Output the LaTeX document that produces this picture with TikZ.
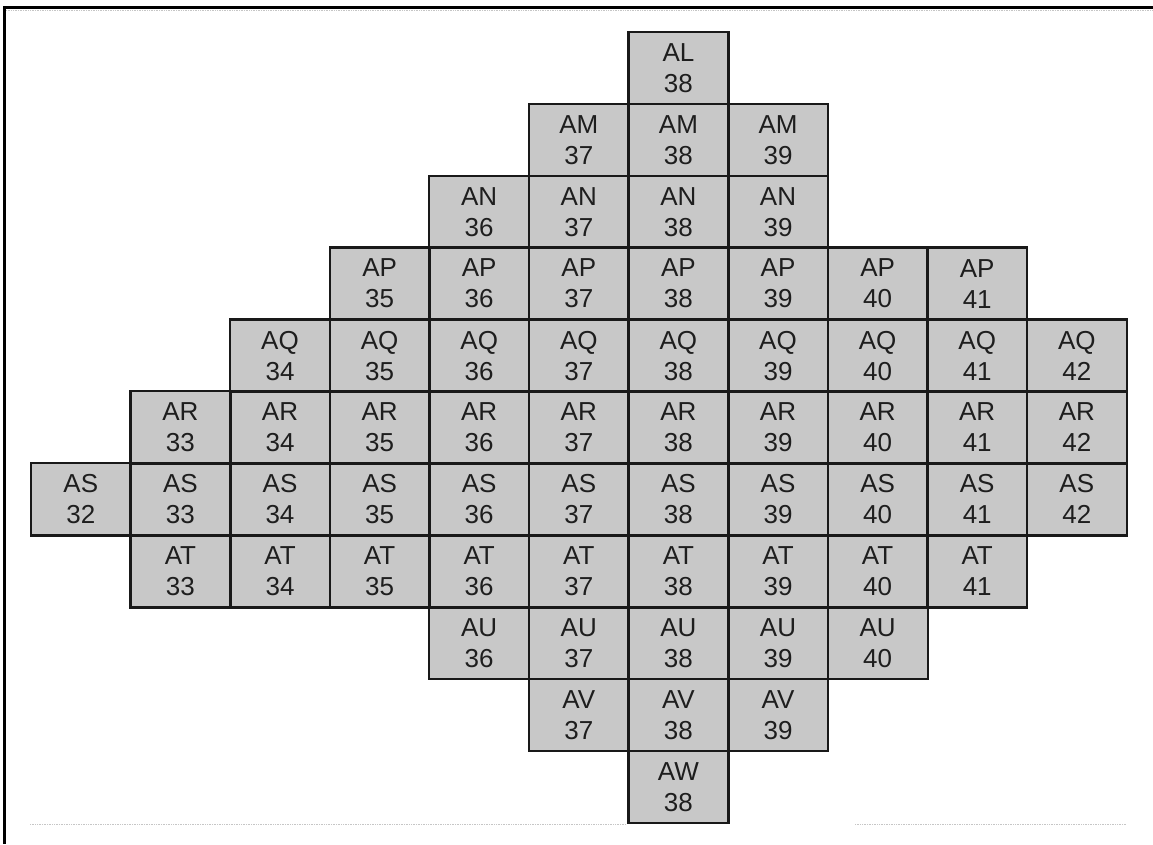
\documentclass[tikz,border=0pt]{standalone}
\usepackage{fontspec}
\setmainfont{Liberation Sans}
\definecolor{cellgray}{RGB}{200,200,200}
\definecolor{inkgray}{RGB}{30,30,30}
\tikzset{
  cell/.style={fill=cellgray, minimum width=99.6pt, minimum height=71.9pt,
    inner sep=0pt, align=center, font=\fontsize{26}{31}\selectfont, text=inkgray},
  cellborder/.style={draw=black!90, line width=2.2pt},
  frameline/.style={line width=3pt, black},
  faintline/.style={line width=0.7pt, gray!45, densely dotted}
}
\begin{document}
\begin{tikzpicture}[x=1pt,y=-1pt]
\useasboundingbox (0,0) rectangle (1153,844);
% frame
\draw[frameline] (3,7.5) -- (1153,7.5);
\draw[frameline] (4.5,6) -- (4.5,844);
\draw[faintline] (6,10.5) -- (1153,10.5);
\draw[faintline] (30,824) -- (626,824);
\draw[faintline] (855,824) -- (1126,824);
% cells
\foreach \r/\i/\a/\b in {AL/0/38/38, AM/1/37/39, AN/2/36/39, AP/3/35/41,
  AQ/4/34/42, AR/5/33/42, AS/6/32/42, AT/7/33/41, AU/8/36/40,
  AV/9/37/39, AW/10/38/38}{
  \foreach \c in {\a,...,\b}{
    \node[cell] (\r\c) at ({31+(\c-32)*99.6+49.8}, {32+\i*71.9+35.95}) {\r\\\c};
  }
}
% borders drawn after all fills
\foreach \r/\a/\b in {AL/38/38, AM/37/39, AN/36/39, AP/35/41,
  AQ/34/42, AR/33/42, AS/32/42, AT/33/41, AU/36/40,
  AV/37/39, AW/38/38}{
  \foreach \c in {\a,...,\b}{
    \draw[cellborder] (\r\c.north west) rectangle (\r\c.south east);
  }
}
\end{tikzpicture}
\end{document}
